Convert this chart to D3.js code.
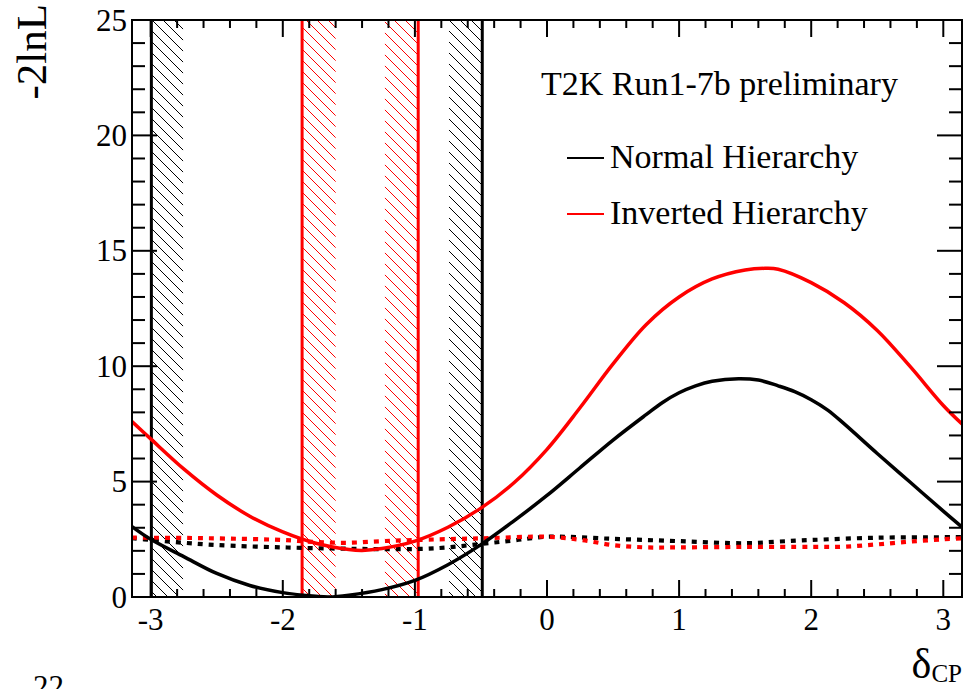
<!DOCTYPE html>
<html><head><meta charset="utf-8">
<script src="https://cdn.jsdelivr.net/npm/d3@7"></script>
<style>
html,body{margin:0;padding:0;background:#fff;}
svg{display:block;}
text{font-family:"Liberation Serif","Times New Roman",serif;fill:#000;}
</style></head>
<body>
<svg id="c" width="973" height="689"></svg>
<script>
// ---- data ----
const nhX = [-3.1416,-3.0,-2.75,-2.5,-2.25,-2.0,-1.75,-1.65,-1.5,-1.25,-1.0,-0.75,-0.5,-0.25,0,0.25,0.5,0.75,0.875,1.0,1.125,1.25,1.45,1.6,1.75,1.875,2.0,2.125,2.25,2.5,2.75,3.0,3.1416];
const nhY = [3.05,2.5,1.75,1.02,0.5,0.19,0.03,0.0,0.08,0.32,0.72,1.4,2.27,3.3,4.4,5.6,6.8,7.9,8.43,8.85,9.15,9.35,9.46,9.4,9.15,8.9,8.55,8.1,7.5,6.22,4.97,3.72,3.03];
const ihX = [-3.1416,-3.0,-2.75,-2.5,-2.25,-2.0,-1.75,-1.5,-1.4,-1.25,-1.0,-0.75,-0.5,-0.25,0,0.25,0.5,0.75,1.0,1.25,1.5,1.65,1.75,2.0,2.25,2.5,2.75,3.0,3.1416];
const ihY = [7.6,6.85,5.55,4.42,3.5,2.82,2.33,2.06,2.02,2.1,2.42,3.02,3.85,4.95,6.4,8.2,10.1,11.8,13.0,13.78,14.17,14.24,14.2,13.62,12.75,11.55,9.98,8.3,7.5];
const nhDashX = [-3.1416,-3.0,-2.75,-2.5,-2.0,-1.5,-1.0,-0.75,-0.5,-0.25,0,0.5,1.0,1.5,1.75,2.0,2.5,3.0,3.1416];
const nhDashY = [2.55,2.47,2.35,2.25,2.15,2.09,2.08,2.15,2.3,2.45,2.61,2.52,2.42,2.33,2.4,2.47,2.57,2.59,2.59];
const ihDashX = [-3.1416,-2.75,-2.5,-2.0,-1.75,-1.5,-1.25,-1.0,-0.5,0,0.25,0.5,0.75,1.0,1.5,2.0,2.25,2.5,2.75,3.0,3.1416];
const ihDashY = [2.57,2.56,2.54,2.47,2.38,2.35,2.42,2.47,2.54,2.61,2.48,2.25,2.15,2.15,2.17,2.17,2.18,2.28,2.4,2.5,2.54];
const nhBounds = [-2.995,-0.49];          // solid black vertical lines
const nhHatch = [[-2.995,-2.755],[-0.742,-0.49]];
const ihBounds = [-1.854,-0.975];         // solid red vertical lines
const ihHatch = [[-1.854,-1.60],[-1.227,-0.975]];
const xTicks = [-3,-2,-1,0,1,2,3];
const yTicks = [0,5,10,15,20,25];
const legendLabels = ["Normal Hierarchy","Inverted Hierarchy"];
const titleText = "T2K Run1-7b preliminary";
const yTitle = "-2lnL";

// ---- chart ----
const svg = d3.select("#c");
const L=132,R=962,T=20,B=597;
const x = d3.scaleLinear().domain([-Math.PI,Math.PI]).range([L,R]);
const y = d3.scaleLinear().domain([0,25]).range([B,T]);
const RED="#ff0000";

const defs = svg.append("defs");
function hatch(id,col){
  const p = defs.append("pattern").attr("id",id).attr("patternUnits","userSpaceOnUse")
    .attr("width",11).attr("height",11);
  p.append("path").attr("d","M0,0 L11,11 M-2,9 L2,13 M9,-2 L13,2")
    .attr("stroke",col).attr("stroke-width",1).attr("fill","none");
}
hatch("hk","#000"); hatch("hr",RED);
defs.append("clipPath").attr("id","clip").append("rect")
  .attr("x",L).attr("y",T).attr("width",R-L).attr("height",B-T);

const plot = svg.append("g").attr("clip-path","url(#clip)");

// hatched bands
plot.selectAll("rect.hk").data(nhHatch).join("rect").attr("class","hk")
  .attr("x",d=>x(d[0])).attr("width",d=>x(d[1])-x(d[0]))
  .attr("y",T).attr("height",B-T).attr("fill","url(#hk)");
plot.selectAll("rect.hr").data(ihHatch).join("rect").attr("class","hr")
  .attr("x",d=>x(d[0])).attr("width",d=>x(d[1])-x(d[0]))
  .attr("y",T).attr("height",B-T).attr("fill","url(#hr)");

// vertical bound lines
plot.selectAll("line.bk").data(nhBounds).join("line").attr("class","bk")
  .attr("x1",d=>x(d)).attr("x2",d=>x(d)).attr("y1",T).attr("y2",B)
  .attr("stroke","#000").attr("stroke-width",3);
plot.selectAll("line.br").data(ihBounds).join("line").attr("class","br")
  .attr("x1",d=>x(d)).attr("x2",d=>x(d)).attr("y1",T).attr("y2",B)
  .attr("stroke",RED).attr("stroke-width",3);

const line = d3.line().x(d=>x(d[0])).y(d=>y(d[1])).curve(d3.curveCatmullRom.alpha(0.5));
function curve(xs,ys,col,dash,w){
  plot.append("path").datum(xs.map((v,i)=>[v,ys[i]]))
    .attr("d",line).attr("fill","none").attr("stroke",col)
    .attr("stroke-width",w).attr("stroke-dasharray",dash||null);
}
curve(nhDashX,nhDashY,"#000","5,6",4.2);
curve(ihDashX,ihDashY,RED,"5,6",4.2);
curve(nhX,nhY,"#000",null,3.5);
curve(ihX,ihY,RED,null,3.5);

// frame
svg.append("rect").attr("x",L).attr("y",T).attr("width",R-L).attr("height",B-T)
  .attr("fill","none").attr("stroke","#000").attr("stroke-width",2);

// ticks
const ax = svg.append("g").attr("stroke","#000").attr("stroke-width",2);
const xMinor = d3.range(-3.2,3.2001,0.2).map(v=>Math.round(v*10)/10).filter(v=>v>=-Math.PI&&v<=Math.PI);
xMinor.forEach(v=>{
  const maj = xTicks.includes(v);
  const len = maj?17:8;
  ax.append("line").attr("x1",x(v)).attr("x2",x(v)).attr("y1",B).attr("y2",B-len);
  ax.append("line").attr("x1",x(v)).attr("x2",x(v)).attr("y1",T).attr("y2",T+len);
});
d3.range(0,26,1).forEach(v=>{
  const maj = yTicks.includes(v);
  const len = maj?25:13;
  ax.append("line").attr("x1",L).attr("x2",L+len).attr("y1",y(v)).attr("y2",y(v));
  ax.append("line").attr("x1",R).attr("x2",R-len).attr("y1",y(v)).attr("y2",y(v));
});

// tick labels
svg.selectAll("text.xl").data(xTicks).join("text").attr("class","xl")
  .attr("x",d=>x(d)).attr("y",630).attr("text-anchor","middle")
  .attr("font-size",31).text(d=>d);
svg.selectAll("text.yl").data(yTicks).join("text").attr("class","yl")
  .attr("x",127).attr("y",d=>y(d)+10.5).attr("text-anchor","end")
  .attr("font-size",31).text(d=>d);

// axis titles
svg.append("text").attr("transform","translate(46,4) rotate(-90)")
  .attr("text-anchor","end").attr("font-size",43).text(yTitle);
const xt = svg.append("text").attr("x",962).attr("y",678).attr("text-anchor","end");
xt.append("tspan").attr("font-size",42).text("δ");
xt.append("tspan").attr("font-size",25).attr("dy",4).text("CP");

// legend
svg.append("text").attr("x",541).attr("y",95).attr("font-size",34).text(titleText);
const lc = ["#000",RED], ly=[158,214];
legendLabels.forEach((t,i)=>{
  svg.append("line").attr("x1",567).attr("x2",604).attr("y1",ly[i]).attr("y2",ly[i])
    .attr("stroke",lc[i]).attr("stroke-width",2);
  svg.append("text").attr("x",610).attr("y",ly[i]+9.5).attr("font-size",34).text(t);
});

// stray page number at bottom-left (cut off by the page edge, as in the reference)
svg.append("text").attr("x",33).attr("y",697).attr("font-size",31).text("22");
</script>
</body></html>
